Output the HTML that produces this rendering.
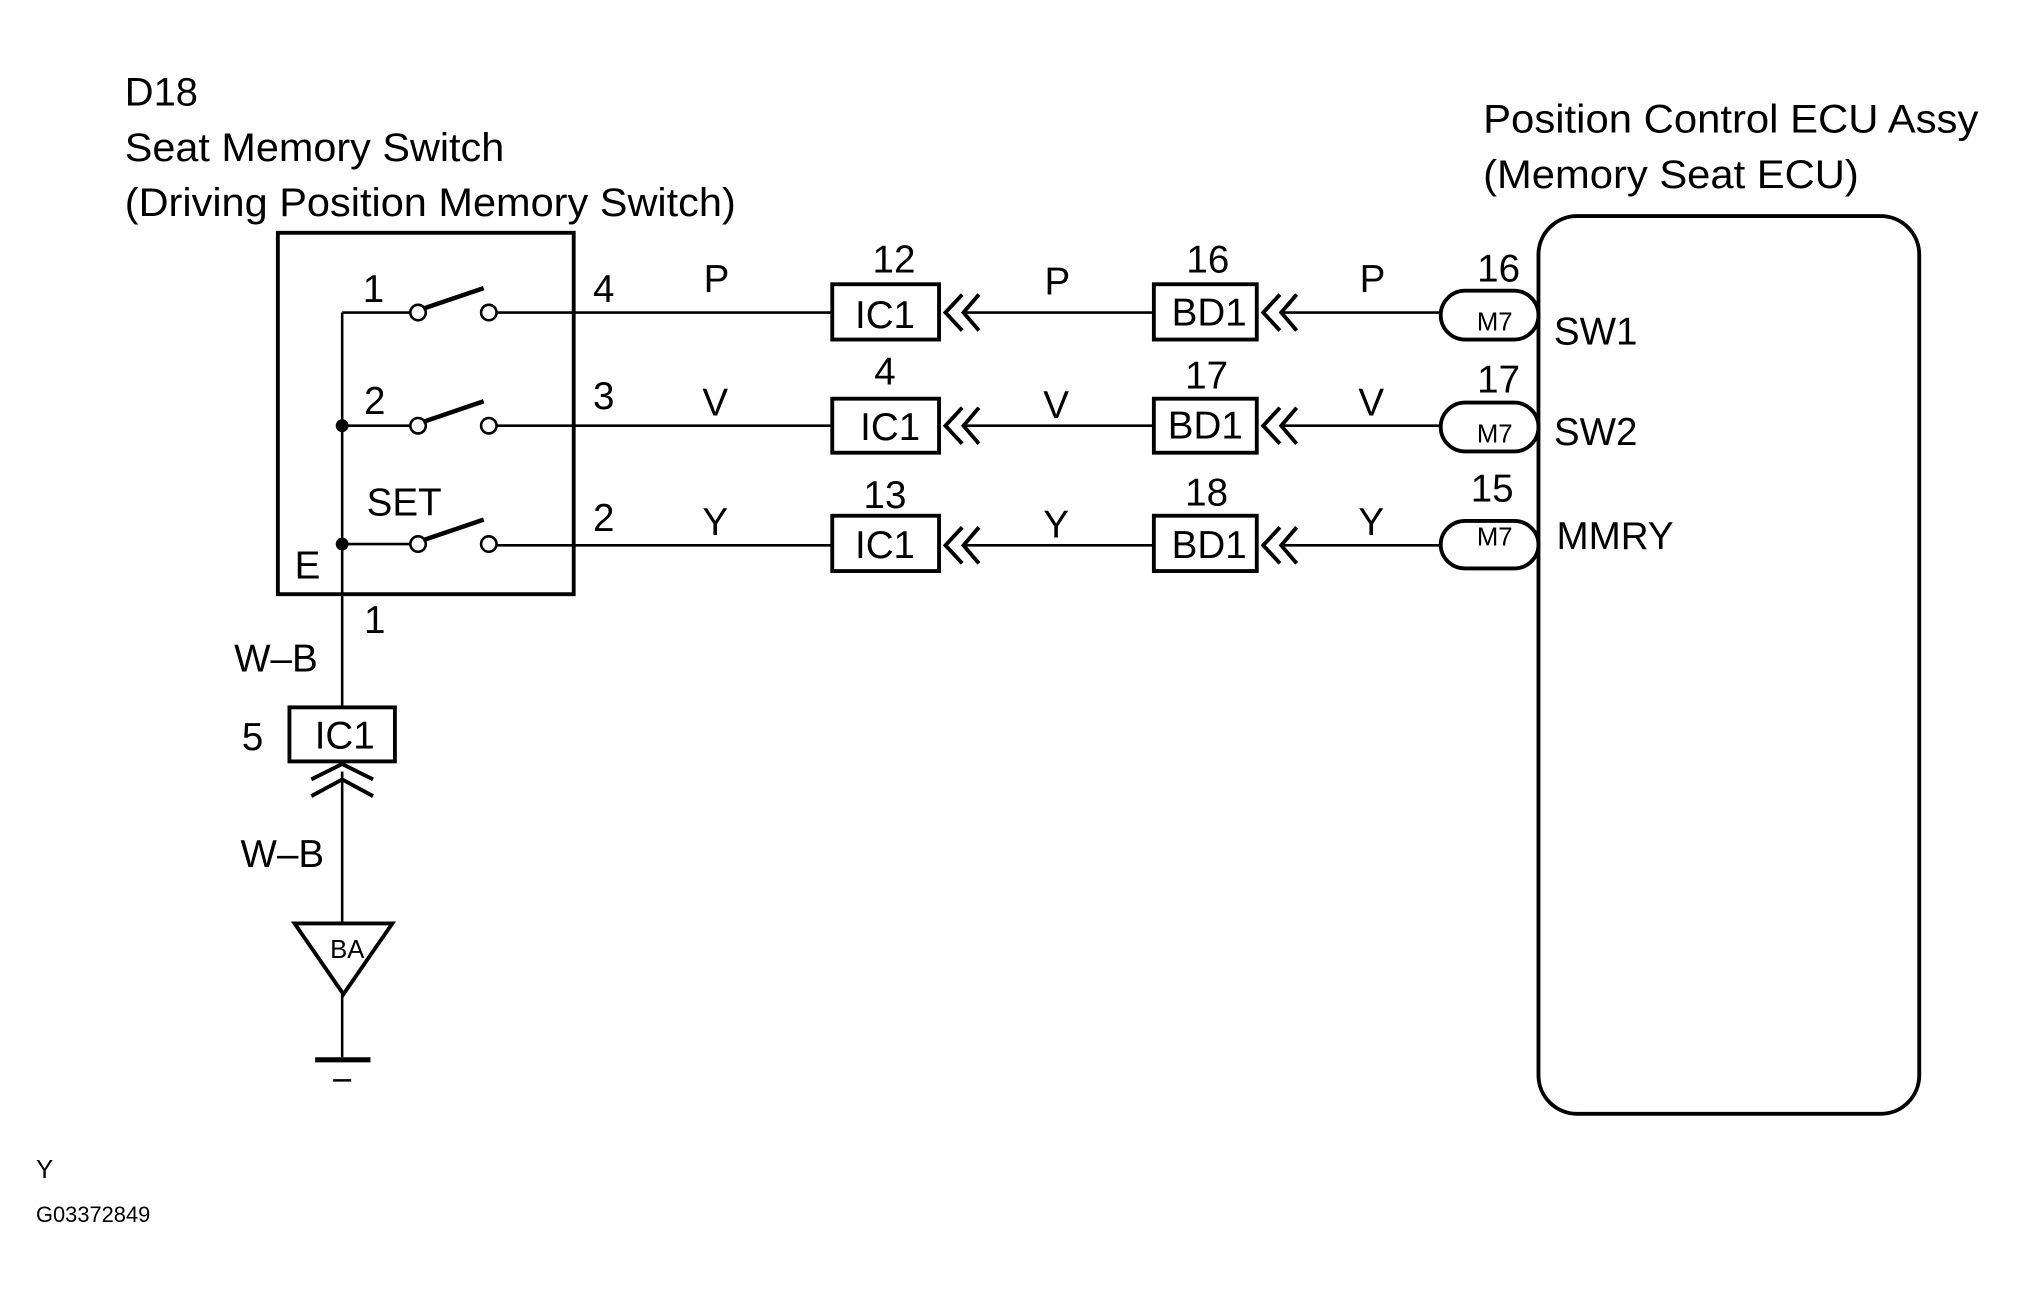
<!DOCTYPE html>
<html><head><meta charset="utf-8"><style>
html,body{margin:0;padding:0;background:#fff;}
svg{display:block;}
text{font-family:"Liberation Sans",sans-serif;fill:#000;}
</style></head><body>
<svg width="2017" height="1299" viewBox="0 0 1568 1010" preserveAspectRatio="none" xmlns="http://www.w3.org/2000/svg">
<g font-size="31">
<text x="97" y="82">D18</text>
<text x="97" y="125" textLength="295" lengthAdjust="spacingAndGlyphs">Seat Memory Switch</text>
<text x="97" y="168" textLength="475" lengthAdjust="spacingAndGlyphs">(Driving Position Memory Switch)</text>
<text x="1153" y="103" textLength="385" lengthAdjust="spacingAndGlyphs">Position Control ECU Assy</text>
<text x="1153" y="146" textLength="292" lengthAdjust="spacingAndGlyphs">(Memory Seat ECU)</text>
</g>
<rect x="216" y="181" width="230" height="281" fill="none" stroke="#000" stroke-width="3"/>
<g stroke="#000" stroke-width="2" fill="none">
<line x1="266" y1="243" x2="266" y2="550"/>
<line x1="266" y1="243" x2="319" y2="243"/>
<line x1="266" y1="331" x2="319" y2="331"/>
<line x1="266" y1="423" x2="319" y2="423"/>
<circle cx="325" cy="243" r="6"/><circle cx="380" cy="243" r="6"/>
<circle cx="325" cy="331" r="6"/><circle cx="380" cy="331" r="6"/>
<circle cx="325" cy="423" r="6"/><circle cx="380" cy="423" r="6"/>
<line x1="386" y1="243" x2="647" y2="243"/>
<line x1="386" y1="331" x2="647" y2="331"/>
<line x1="386" y1="424" x2="647" y2="424"/>
<line x1="748" y1="243" x2="897" y2="243"/>
<line x1="748" y1="331" x2="897" y2="331"/>
<line x1="748" y1="424" x2="897" y2="424"/>
<line x1="995" y1="243" x2="1120" y2="243"/>
<line x1="995" y1="331" x2="1120" y2="331"/>
<line x1="995" y1="424" x2="1120" y2="424"/>
<line x1="266" y1="600" x2="266" y2="718"/>
<line x1="266" y1="773" x2="266" y2="822"/>
</g>
<g stroke="#000" stroke-width="3.5" fill="none">
<line x1="329" y1="240" x2="376" y2="224"/>
<line x1="329" y1="328" x2="376" y2="312"/>
<line x1="329" y1="420" x2="376" y2="404"/>
</g>
<circle cx="266" cy="331" r="5" fill="#000"/>
<circle cx="266" cy="423" r="5" fill="#000"/>
<g font-size="30">
<text x="282" y="235">1</text>
<text x="283" y="322">2</text>
<text x="285" y="401">SET</text>
<text x="229" y="450">E</text>
<text x="461" y="235">4</text>
<text x="461" y="318">3</text>
<text x="461" y="413">2</text>
<text x="547" y="227">P</text>
<text x="546" y="323">V</text>
<text x="546" y="416">Y</text>
<text x="812" y="229">P</text>
<text x="811" y="325">V</text>
<text x="811" y="418">Y</text>
<text x="1057" y="227">P</text>
<text x="1056" y="323">V</text>
<text x="1056" y="416">Y</text>
<text x="695" y="212" text-anchor="middle">12</text>
<text x="688" y="299" text-anchor="middle">4</text>
<text x="688" y="395" text-anchor="middle">13</text>
<text x="939" y="212" text-anchor="middle">16</text>
<text x="938" y="302" text-anchor="middle">17</text>
<text x="938" y="393" text-anchor="middle">18</text>
<text x="1165" y="219" text-anchor="middle">16</text>
<text x="1165" y="305" text-anchor="middle">17</text>
<text x="1160" y="390" text-anchor="middle">15</text>
<text x="1208" y="268">SW1</text>
<text x="1208" y="346">SW2</text>
<text x="1210" y="427">MMRY</text>
<text x="283" y="492">1</text>
<text x="182" y="522">W–B</text>
<text x="188" y="583">5</text>
<text x="187" y="674">W–B</text>
</g>
<g stroke="#000" stroke-width="3" fill="#fff">
<rect x="647" y="221" width="83" height="43"/>
<rect x="647" y="310" width="83" height="42"/>
<rect x="647" y="401" width="83" height="43"/>
<rect x="897" y="221" width="80" height="43"/>
<rect x="897" y="310" width="80" height="42"/>
<rect x="897" y="401" width="80" height="43"/>
<rect x="225" y="550" width="82" height="42"/>
<rect x="1120" y="226" width="76" height="38" rx="19"/>
<rect x="1120" y="313" width="76" height="38" rx="19"/>
<rect x="1120" y="405" width="76" height="37" rx="19"/>
</g>
<rect x="1196" y="168" width="296" height="698" rx="30" fill="none" stroke="#000" stroke-width="3"/>
<g font-size="30" text-anchor="middle">
<text x="688" y="255">IC1</text>
<text x="692" y="342">IC1</text>
<text x="688" y="434">IC1</text>
<text x="940" y="253">BD1</text>
<text x="937" y="341">BD1</text>
<text x="940" y="434">BD1</text>
<text x="268" y="582">IC1</text>
</g>
<g font-size="20" text-anchor="middle">
<text x="1162" y="257">M7</text>
<text x="1162" y="344">M7</text>
<text x="1162" y="424">M7</text>
<text x="270" y="745">BA</text>
</g>
<g stroke="#000" stroke-width="3" fill="none">
<path d="M748,229 L735,243 L748,257 M761,229 L749,243 L761,257"/>
<path d="M748,317 L735,331 L748,345 M761,317 L749,331 L761,345"/>
<path d="M748,410 L735,424 L748,438 M761,410 L749,424 L761,438"/>
<path d="M995,229 L982,243 L995,257 M1008,229 L996,243 L1008,257"/>
<path d="M995,317 L982,331 L995,345 M1008,317 L996,331 L1008,345"/>
<path d="M995,410 L982,424 L995,438 M1008,410 L996,424 L1008,438"/>
<path d="M242,606 L266,594 L290,606 M242,619 L266,606 L290,619"/>
<path d="M229,718 L305,718 L267,773 Z"/>
</g>
<line x1="245" y1="824" x2="288" y2="824" stroke="#000" stroke-width="4"/>
<line x1="259" y1="840" x2="273" y2="840" stroke="#000" stroke-width="2"/>
<text x="28" y="916" font-size="20">Y</text>
<text x="28" y="950" font-size="17">G03372849</text>
</svg>
</body></html>
